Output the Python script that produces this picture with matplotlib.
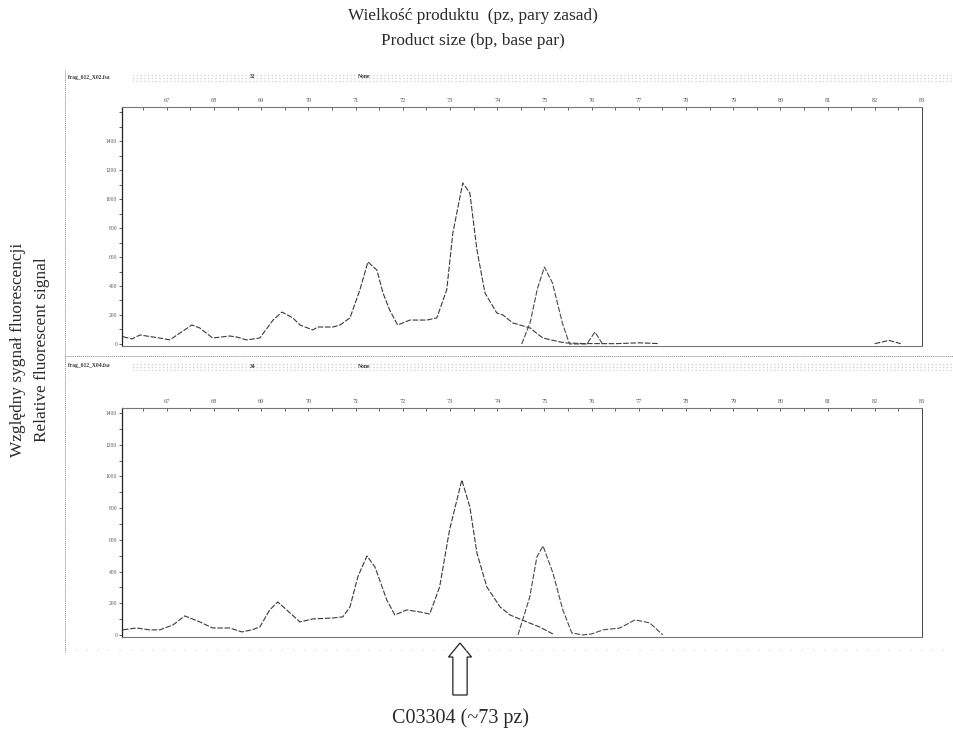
import numpy as np
import matplotlib.pyplot as plt
from matplotlib.patches import FancyArrow
from matplotlib.ticker import MultipleLocator

# Fragment sizes (bp) and relative fluorescence
top_main_bp = [66.07, 66.26, 66.43, 66.85, 67.06, 67.30, 67.53, 67.70, 67.97, 68.33, 68.48,
               68.69, 68.97, 69.25, 69.44, 69.67, 69.82, 70.09, 70.20, 70.52, 70.67, 70.88,
               71.09, 71.26, 71.45, 71.58, 71.72, 71.89, 72.15, 72.51, 72.72, 72.93, 73.06,
               73.27, 73.42, 73.57, 73.74, 73.99, 74.12, 74.33, 74.63, 74.70, 74.85, 74.97,
               75.33, 75.47, 75.80, 76.50, 77.00, 77.40, 78.00, 82.00, 82.30, 82.55]
top_main_rfu = [50, 35, 62, 41, 28, 80, 131, 110, 41, 55, 48,
                28, 41, 165, 220, 180, 131, 97, 117, 117, 131, 180,
                373, 566, 510, 352, 235, 131, 165, 165, 180, 373, 766,
                1111, 1042, 649, 352, 214, 200, 145, 117, 110, 70, 41,
                14, 7, 3, 2, 8, 3, np.nan, 2, 25, 2]

top_second_bp = [74.52, 74.70, 74.85, 75.00, 75.17, 75.38, 75.53, 75.90, 76.07, 76.23]
top_second_rfu = [0, 150, 380, 531, 421, 145, 0, 0, 83, 0]

bot_main_bp = [66.07, 66.36, 66.64, 66.85, 67.13, 67.38, 67.70, 67.97, 68.33, 68.59, 68.80,
               68.97, 69.18, 69.35, 69.61, 69.82, 70.09, 70.52, 70.73, 70.88, 71.05, 71.24,
               71.41, 71.66, 71.83, 72.08, 72.36, 72.57, 72.78, 72.99, 73.25, 73.42, 73.57,
               73.78, 74.06, 74.27, 74.63, 74.90, 75.18]
bot_main_rfu = [32, 44, 32, 32, 63, 120, 82, 44, 44, 19, 32,
                50, 158, 208, 139, 82, 101, 107, 114, 177, 370, 498,
                429, 221, 126, 158, 145, 132, 303, 663, 978, 808, 517,
                303, 177, 126, 82, 50, 6]

bot_second_bp = [74.44, 74.69, 74.84, 74.97, 75.18, 75.39, 75.58, 75.81, 76.00, 76.24, 76.60,
                 76.92, 77.23, 77.51]
bot_second_rfu = [0, 240, 492, 562, 391, 158, 13, 0, 6, 32, 44, 95, 76, 0]

size_ticks = list(range(67, 84))
rfu_ticks = [0, 200, 400, 600, 800, 1000, 1200, 1400]

W, H = 954, 735
serif = ['Liberation Serif', 'DejaVu Serif']

fig = plt.figure(figsize=(W / 100, H / 100), dpi=100)


def fx(x):
    return x / W


def fy(y):
    return 1 - y / H


def panel(top, bottom, ylim, bp1, rfu1, bp2, rfu2):
    ax = fig.add_axes([fx(122), fy(bottom), fx(922) - fx(122), fy(top) - fy(bottom)])
    ax.plot(bp1, rfu1, color='#3a3a3a', lw=0.8, ls=(0, (5, 1.5)))
    ax.plot(bp2, rfu2, color='#4a4a4a', lw=0.8, ls=(0, (5, 1.5)))
    ax.set_xlim(66.05, 83.0)
    ax.set_ylim(*ylim)
    ax.xaxis.tick_top()
    ax.set_xticks(size_ticks)
    ax.set_xticklabels([str(t) for t in size_ticks], fontsize=4.5, family=serif, color='#555555')
    ax.xaxis.set_minor_locator(MultipleLocator(0.5))
    ax.set_yticks(rfu_ticks)
    ax.set_yticklabels([str(t) for t in rfu_ticks], fontsize=4, family=serif, color='#555555')
    ax.yaxis.set_minor_locator(MultipleLocator(100))
    ax.tick_params(axis='x', which='both', direction='in', length=2, width=0.6, pad=3, color='#444444')
    ax.tick_params(axis='y', which='both', direction='out', length=2, width=0.6, pad=1.5, color='#444444')
    ax.spines['left'].set_linewidth(0.9)
    ax.spines['left'].set_color('#222222')
    ax.spines['right'].set_linewidth(0.7)
    ax.spines['right'].set_linestyle((0, (3, 1)))
    ax.spines['right'].set_color('#444444')
    for s in ['top', 'bottom']:
        ax.spines[s].set_linestyle((0, (1, 1)))
        ax.spines[s].set_linewidth(0.8)
        ax.spines[s].set_color('#777777')
    ax.set_facecolor('none')
    return ax


panel(107, 346, (-14, 1635), top_main_bp, top_main_rfu, top_second_bp, top_second_rfu)
panel(408, 637, (-13, 1432), bot_main_bp, bot_main_rfu, bot_second_bp, bot_second_rfu)

# scanned frame and header strips
frame_kw = dict(transform=fig.transFigure, color='#888888', lw=0.7, ls=(0, (1, 1)))
fig.add_artist(plt.Line2D([fx(65), fx(65)], [fy(70), fy(652)], **frame_kw))
fig.add_artist(plt.Line2D([fx(65), fx(954)], [fy(356), fy(356)], **frame_kw))
fig.add_artist(plt.Line2D([fx(65), fx(954)], [fy(650), fy(650)], transform=fig.transFigure,
                          color='#bbbbbb', lw=0.6, ls=(0, (1, 12))))

for y, name, num in [(77, 'frag_012_X02.fsa', '32'), (366, 'frag_012_X04.fsa', '34')]:
    for dy in (-2, 1, 4):
        fig.add_artist(plt.Line2D([fx(130), fx(952)], [fy(y + dy), fy(y + dy)], transform=fig.transFigure,
                                  color='#cccccc', lw=0.9, ls=(dy % 3, (1, 2))))
    fig.text(fx(68), fy(y), name, fontsize=4, fontweight='bold', family=serif, va='center', color='#333333')
    fig.text(fx(250), fy(y), num, fontsize=4, fontweight='bold', family=serif, va='center', color='#333333')
    fig.text(fx(358), fy(y), 'None', fontsize=4, fontweight='bold', family=serif, va='center', color='#333333')

# titles
fig.text(fx(473), fy(16), 'Wielkość produktu  (pz, pary zasad)', fontsize=12.4, family=serif,
         ha='center', va='center', color='#2a2a2a')
fig.text(fx(473), fy(41), 'Product size (bp, base par)', fontsize=12.4, family=serif,
         ha='center', va='center', color='#2a2a2a')
fig.text(fx(18), fy(350), 'Względny sygnał fluorescencji', fontsize=12.4, family=serif,
         rotation=90, ha='center', va='center', color='#2a2a2a')
fig.text(fx(42), fy(350), 'Relative fluorescent signal', fontsize=12.4, family=serif,
         rotation=90, ha='center', va='center', color='#2a2a2a')

# marker arrow for the 73 bp product
arrow = FancyArrow(fx(460), fy(695), 0, fy(643) - fy(695), width=11 / H, head_width=23 / W,
                   head_length=14 / H, length_includes_head=True, transform=fig.transFigure,
                   facecolor='white', edgecolor='#222222', lw=0.9)
fig.add_artist(arrow)
fig.text(fx(461), fy(718), 'C03304 (~73 pz)', fontsize=14.5, family=serif,
         ha='center', va='center', color='#2a2a2a')

fig.savefig('out.png', dpi=100)
